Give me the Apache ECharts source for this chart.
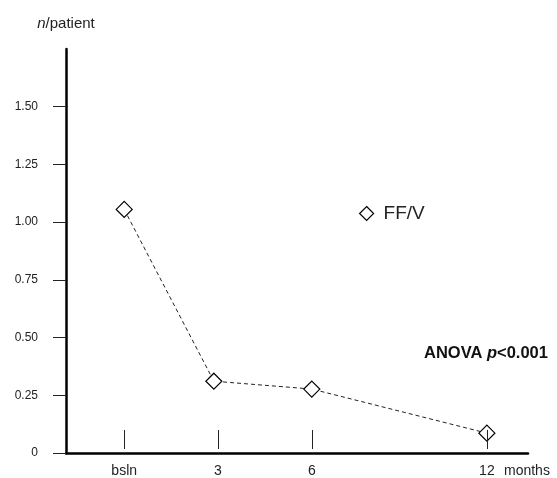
<!DOCTYPE html>
<html>
<head>
<meta charset="utf-8">
<script src="https://cdn.jsdelivr.net/npm/echarts@6/dist/echarts.min.js"></script>
<style>html,body{margin:0;padding:0;background:#fff}#c{width:557px;height:478px}</style>
</head>
<body>
<div id="c"></div>
<script>
// Data
const categories = ['bsln', '3', '6', '12'];
const catPos = [12.6, 32.9, 53.2, 91.1];     // tick positions along x (visual spacing of the original)
const pointPos = [12.6, 32.0, 53.2, 91.1];   // marker positions along x
const ffv = [1.055, 0.311, 0.277, 0.086];     // n/patient, FF/V
const yTicks = [0, 0.25, 0.5, 0.75, 1.0, 1.25, 1.5];
const seriesName = 'FF/V';

const FONT = 'Liberation Sans';
const chart = echarts.init(document.getElementById('c'), null, { renderer: 'canvas' });

function catLabel(v) {
  const i = catPos.findIndex(p => Math.abs(p - v) < 1e-6);
  return i >= 0 ? categories[i] : '';
}

chart.setOption({
  backgroundColor: '#fff',
  animation: false,
  textStyle: { fontFamily: FONT },
  grid: { left: 66, right: 29, top: 49, bottom: 24 },
  legend: {
    data: [seriesName],
    left: 354, top: 199,
    icon: 'diamond',
    itemWidth: 14, itemHeight: 14,
    itemStyle: { color: '#fff', borderColor: '#000', borderWidth: 1.2 },
    textStyle: { fontSize: 19, color: '#222', fontFamily: FONT, padding: [0, 0, 0, 5] }
  },
  xAxis: [
    {
      type: 'value', min: 0, max: 100,
      axisLine: { lineStyle: { color: '#000', width: 2.5 } },
      axisTick: { show: false },
      splitLine: { show: false },
      axisLabel: { customValues: catPos, formatter: catLabel, margin: 11, fontSize: 14, color: '#222', fontFamily: FONT }
    },
    {
      type: 'value', min: 0, max: 100, position: 'bottom', offset: -4, z: 3,
      axisLine: { show: false },
      axisTick: { show: true, inside: true, length: 19, customValues: catPos, lineStyle: { color: '#222', width: 1 } },
      axisLabel: { show: false },
      splitLine: { show: false }
    }
  ],
  yAxis: {
    type: 'value', min: 0, max: 1.75,
    name: '{i|n}/patient',
    nameLocation: 'end',
    nameGap: 18,
    nameTextStyle: {
      fontSize: 15, color: '#222', fontFamily: FONT, align: 'center',
      rich: { i: { fontStyle: 'italic', fontSize: 15, color: '#222', fontFamily: FONT } }
    },
    axisLine: { show: true, lineStyle: { color: '#000', width: 2.5 } },
    axisTick: { show: true, length: 13, customValues: yTicks, lineStyle: { color: '#222', width: 1 } },
    axisLabel: {
      customValues: yTicks, margin: 28, fontSize: 12, color: '#222', fontFamily: FONT,
      formatter: v => (v === 0 ? '0' : v.toFixed(2))
    },
    splitLine: { show: false }
  },
  series: [{
    name: seriesName,
    type: 'line',
    data: pointPos.map((x, i) => [x, ffv[i]]),
    symbol: 'diamond',
    symbolSize: 16,
    itemStyle: { color: '#fff', borderColor: '#000', borderWidth: 1.2 },
    lineStyle: { color: '#222', width: 1, type: [4, 3] },
    z: 2
  }],
  graphic: [
    {
      type: 'text', left: 424, top: 345,
      style: {
        text: '{b|ANOVA }{bi|p}{b|<0.001}',
        rich: {
          b: { fontWeight: 'bold', fontSize: 16.5, fill: '#111', fontFamily: FONT },
          bi: { fontWeight: 'bold', fontStyle: 'italic', fontSize: 16.5, fill: '#111', fontFamily: FONT }
        }
      }
    },
    {
      type: 'text', left: 504, top: 464,
      style: { text: 'months', fontSize: 14, fill: '#222', fontFamily: FONT }
    }
  ]
});
</script>
</body>
</html>
